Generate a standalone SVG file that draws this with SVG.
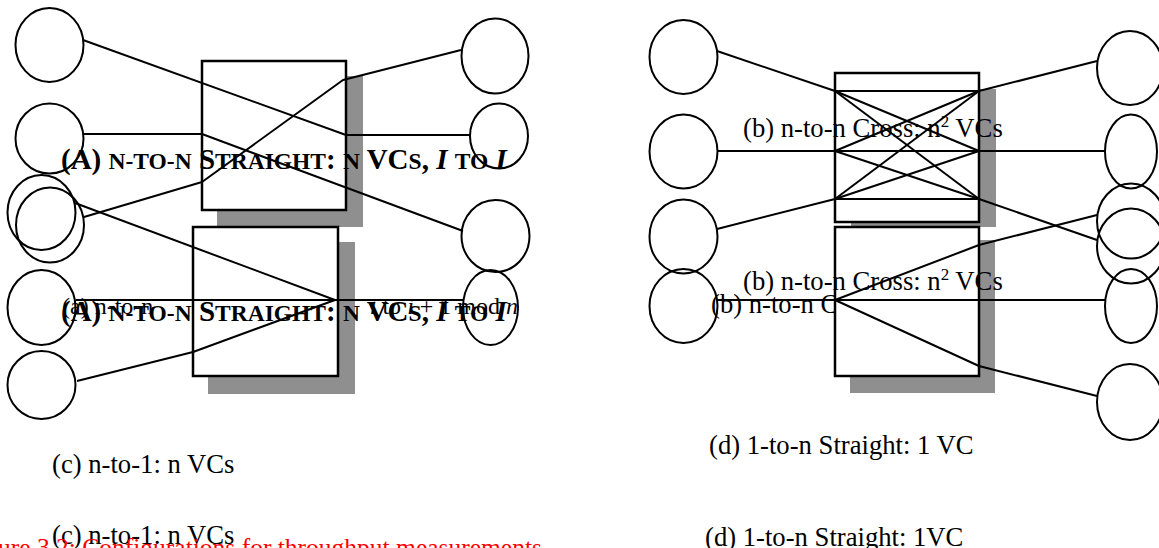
<svg xmlns="http://www.w3.org/2000/svg" width="1159" height="548" viewBox="0 0 1159 548">
<style>
.c{fill:none;stroke:#000;stroke-width:2}
.b{fill:#fff;stroke:#000;stroke-width:2.5}
.s{fill:#8f8f8f;stroke:none}
.l{fill:none;stroke:#000;stroke-width:2;stroke-linejoin:round}
.t{font-family:"Liberation Serif","Times New Roman",serif;font-size:26.67px;fill:#000}
.tb{font-family:"Liberation Serif","Times New Roman",serif;font-size:29px;font-weight:bold;fill:#000}
.sc{font-size:23.5px}
.ts{font-family:"Liberation Serif","Times New Roman",serif;font-size:24px;fill:#000}
.i{font-style:italic}
.red{fill:#ff0000;font-size:25.5px}
</style>
<rect width="1159" height="548" fill="#fff"/>

<g id="hidden-labels">
<text class="ts" x="62" y="314">(a) n-to-n</text>
<text class="ts" x="518" y="314" text-anchor="end"><tspan class="i">i</tspan> to <tspan class="i">i</tspan> + 1 mod <tspan class="i">n</tspan></text>
<text class="t" x="711" y="313">(b) n-to-n C</text>
</g>

<g id="switch-a">
<rect class="s" x="217" y="76" width="146" height="151"/>
<rect class="b" x="202" y="61" width="144" height="149"/>
</g>
<g id="switch-c">
<rect class="s" x="208" y="242" width="147" height="152"/>
<rect class="b" x="193" y="227" width="145" height="149"/>
</g>
<g id="switch-b">
<rect class="s" x="851" y="89" width="145" height="138"/>
<rect class="b" x="835" y="73" width="144" height="149"/>
</g>
<g id="switch-d">
<rect class="s" x="850" y="240" width="145" height="153"/>
<rect class="b" x="835" y="227" width="144" height="149"/>
</g>

<g id="left-hosts">
<ellipse id="ll1" class="c" cx="49.5" cy="45" rx="34" ry="37"/>
<ellipse id="ll2" class="c" cx="49.5" cy="138.5" rx="34" ry="35"/>
<ellipse id="ll3a" class="c" cx="41.5" cy="212.5" rx="34" ry="37.5"/>
<ellipse id="ll3b" class="c" cx="50" cy="225" rx="34" ry="37.5"/>
<ellipse id="ll4" class="c" cx="41.5" cy="307.5" rx="34" ry="37.5"/>
<ellipse id="ll5" class="c" cx="41.5" cy="385" rx="34" ry="34"/>
<ellipse id="lr1" class="c" cx="495" cy="56" rx="33.5" ry="37.5"/>
<ellipse id="lr2" class="c" cx="499" cy="136" rx="29" ry="32.5"/>
<ellipse id="lr3" class="c" cx="495.5" cy="236" rx="34" ry="36"/>
<ellipse id="lr4" class="c" cx="490.5" cy="307.5" rx="27.5" ry="37.5"/>
</g>
<g id="right-hosts">
<ellipse id="rl1" class="c" cx="683.5" cy="57" rx="34" ry="37"/>
<ellipse id="rl2" class="c" cx="683.5" cy="151.5" rx="34" ry="37"/>
<ellipse id="rl3" class="c" cx="683.5" cy="236.5" rx="34" ry="37"/>
<ellipse id="rl4" class="c" cx="683.5" cy="306" rx="34" ry="37"/>
<ellipse id="rr1" class="c" cx="1130" cy="68" rx="33" ry="37"/>
<ellipse id="rr2" class="c" cx="1131" cy="151.5" rx="26" ry="37"/>
<ellipse id="rr3a" class="c" cx="1131" cy="221" rx="34" ry="37.5"/>
<ellipse id="rr3b" class="c" cx="1131" cy="246" rx="34" ry="37.5"/>
<ellipse id="rr4" class="c" cx="1131" cy="306" rx="26" ry="37"/>
<ellipse id="rr5" class="c" cx="1130" cy="402" rx="33" ry="38"/>
</g>

<g id="connectors">
<polyline class="l" points="83,40 346,135 470,135"/>
<polyline class="l" points="84,134 202,134 463,231"/>
<polyline class="l" points="84,217 202,182 343,80 461,50"/>
<line class="l" x1="75" y1="203" x2="335" y2="300"/>
<line class="l" x1="76" y1="300" x2="463" y2="300"/>
<polyline class="l" points="77,381 193,352 335,300"/>

<line class="l" x1="717" y1="51" x2="835" y2="91"/>
<line class="l" x1="717" y1="151" x2="835" y2="151"/>
<line class="l" x1="717" y1="229" x2="835" y2="199"/>
<line class="l" x1="835" y1="91" x2="979" y2="91"/>
<line class="l" x1="835" y1="151" x2="979" y2="151"/>
<line class="l" x1="835" y1="199" x2="979" y2="199"/>
<line class="l" x1="835" y1="91" x2="979" y2="151"/>
<line class="l" x1="835" y1="91" x2="979" y2="199"/>
<line class="l" x1="835" y1="151" x2="979" y2="91"/>
<line class="l" x1="835" y1="151" x2="979" y2="199"/>
<line class="l" x1="835" y1="199" x2="979" y2="91"/>
<line class="l" x1="835" y1="199" x2="979" y2="151"/>
<line class="l" x1="979" y1="91" x2="1097" y2="61"/>
<line class="l" x1="979" y1="151" x2="1105" y2="151"/>
<line class="l" x1="979" y1="199" x2="1097" y2="240"/>

<line class="l" x1="717" y1="300" x2="1105" y2="300"/>
<polyline class="l" points="835,300 979,245 1097,215"/>
<polyline class="l" points="835,300 979,366 1097,396"/>
</g>

<g id="labels">
<text class="tb" x="61" y="169">(A) <tspan class="sc">N-TO-N</tspan> S<tspan class="sc">TRAIGHT</tspan>: <tspan class="sc">N</tspan> VC<tspan class="sc">S</tspan>, <tspan class="i">I</tspan> <tspan class="sc">TO</tspan> <tspan class="i">I</tspan></text>
<text class="tb" x="61" y="321">(A) <tspan class="sc">N-TO-N</tspan> S<tspan class="sc">TRAIGHT</tspan>: <tspan class="sc">N</tspan> VC<tspan class="sc">S</tspan>, <tspan class="i">I</tspan> <tspan class="sc">TO</tspan> <tspan class="i">I</tspan></text>
<text class="t" x="743" y="137">(b) n-to-n Cross: n<tspan dy="-10" font-size="17">2</tspan><tspan dy="10"> VCs</tspan></text>
<text class="t" x="743" y="290">(b) n-to-n Cross: n<tspan dy="-10" font-size="17">2</tspan><tspan dy="10"> VCs</tspan></text>
<text class="t" x="52" y="473">(c) n-to-1: n VCs</text>
<text class="t" x="52" y="544">(c) n-to-1: n VCs</text>
<text class="t" x="709" y="454">(d) 1-to-n Straight: 1 VC</text>
<text class="t" x="705" y="546">(d) 1-to-n Straight: 1VC</text>
<text class="t red" x="-36" y="556">Figure 3.2: Configurations for throughput measurements</text>
</g>
</svg>
